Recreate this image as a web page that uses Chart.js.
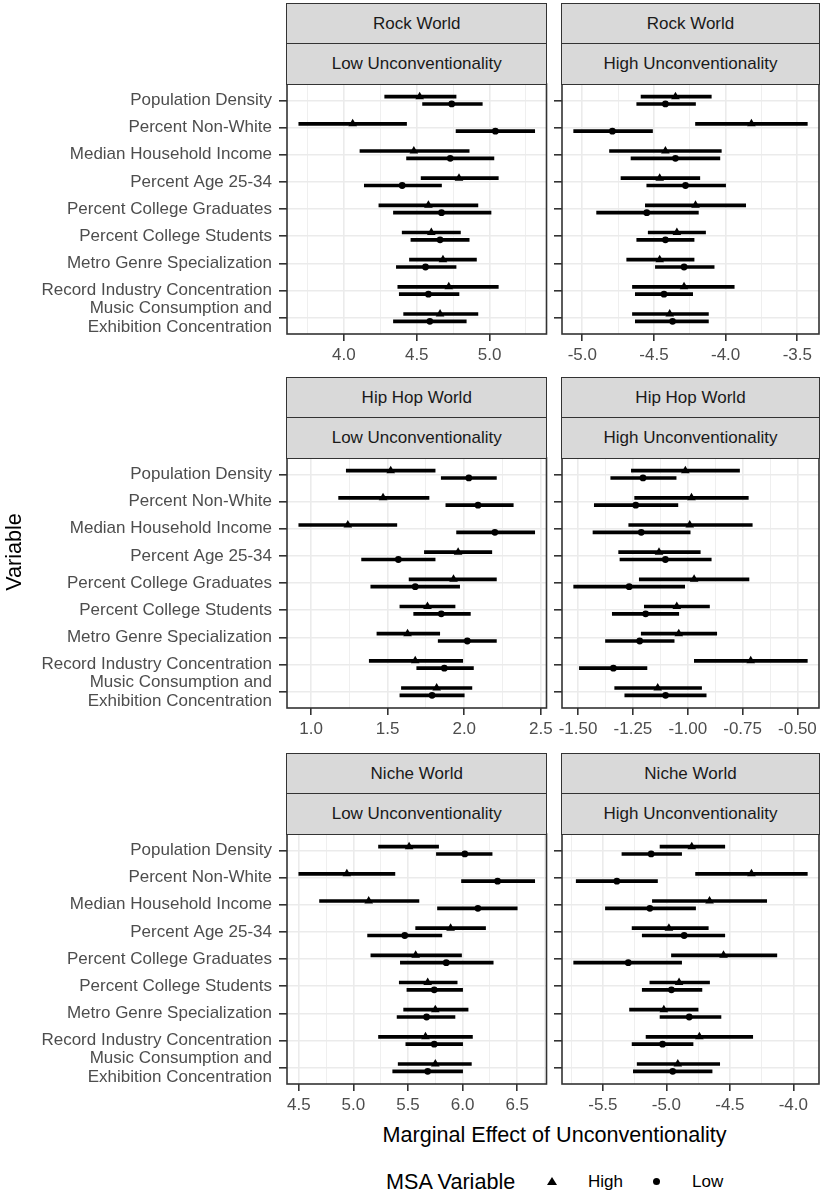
<!DOCTYPE html>
<html><head><meta charset="utf-8">
<script src="https://cdn.jsdelivr.net/npm/chart.js@4.4.1/dist/chart.umd.min.js"></script>
<style>
html,body{margin:0;padding:0;background:#fff}
body{width:824px;height:1194px;position:relative;overflow:hidden;font-family:"Liberation Sans",Arial,Helvetica,sans-serif}
canvas{position:absolute}
.strip{position:absolute;box-sizing:border-box;background:#D9D9D9;border:1.6px solid #333333;color:#1A1A1A;font-size:17px;display:flex;align-items:center;justify-content:center;white-space:nowrap}
.lbl{position:absolute;white-space:nowrap;color:#000}
</style></head><body>
<script>
// ---------- categories / labels ----------
const categories = ["Population Density","Percent Non-White","Median Household Income","Percent Age 25-34","Percent College Graduates","Percent College Students","Metro Genre Specialization","Record Industry Concentration","Music Consumption and Exhibition Concentration"];
const worlds = ["Rock World","Hip Hop World","Niche World"];
const unconventionality = ["Low Unconventionality","High Unconventionality"];
const msaLevels = ["High","Low"];
const xAxisTitle = "Marginal Effect of Unconventionality";
const yAxisTitle = "Variable";
const legendTitle = "MSA Variable";

// ---------- Rock World, Low Unconventionality ----------
const rockLowHighEst = [4.52, 4.06, 4.48, 4.79, 4.58, 4.60, 4.68, 4.72, 4.66];
const rockLowHighLo  = [4.28, 3.69, 4.11, 4.53, 4.24, 4.40, 4.45, 4.37, 4.41];
const rockLowHighHi  = [4.77, 4.43, 4.86, 5.06, 4.92, 4.80, 4.91, 5.06, 4.92];
const rockLowLowEst  = [4.74, 5.04, 4.73, 4.40, 4.67, 4.66, 4.56, 4.58, 4.59];
const rockLowLowLo   = [4.54, 4.77, 4.43, 4.14, 4.34, 4.46, 4.36, 4.38, 4.34];
const rockLowLowHi   = [4.95, 5.31, 5.03, 4.67, 5.01, 4.86, 4.77, 4.79, 4.84];
const rockLowTicks   = ["4.0","4.5","5.0"];

// ---------- Rock World, High Unconventionality ----------
const rockHighHighEst = [-4.35, -3.82, -4.42, -4.46, -4.21, -4.34, -4.46, -4.29, -4.39];
const rockHighHighLo  = [-4.59, -4.21, -4.81, -4.73, -4.56, -4.54, -4.69, -4.65, -4.65];
const rockHighHighHi  = [-4.10, -3.43, -4.03, -4.18, -3.86, -4.14, -4.22, -3.94, -4.12];
const rockHighLowEst  = [-4.42, -4.79, -4.35, -4.28, -4.55, -4.42, -4.29, -4.43, -4.37];
const rockHighLowLo   = [-4.62, -5.06, -4.66, -4.55, -4.90, -4.62, -4.49, -4.63, -4.63];
const rockHighLowHi   = [-4.21, -4.51, -4.04, -4.00, -4.19, -4.22, -4.08, -4.23, -4.12];
const rockHighTicks   = ["-5.0","-4.5","-4.0","-3.5"];

// ---------- Hip Hop World, Low Unconventionality ----------
const hipLowHighEst = [1.52, 1.47, 1.24, 1.96, 1.93, 1.76, 1.63, 1.68, 1.82];
const hipLowHighLo  = [1.23, 1.18, 0.92, 1.74, 1.64, 1.58, 1.43, 1.38, 1.59];
const hipLowHighHi  = [1.81, 1.77, 1.56, 2.18, 2.21, 1.94, 1.84, 1.99, 2.05];
const hipLowLowEst  = [2.03, 2.09, 2.20, 1.57, 1.68, 1.85, 2.02, 1.87, 1.79];
const hipLowLowLo   = [1.85, 1.88, 1.95, 1.33, 1.39, 1.67, 1.83, 1.69, 1.58];
const hipLowLowHi   = [2.21, 2.32, 2.46, 1.81, 1.97, 2.04, 2.21, 2.06, 2.00];
const hipLowTicks   = ["1.0","1.5","2.0","2.5"];

// ---------- Hip Hop World, High Unconventionality ----------
const hipHighHighEst = [-1.011, -0.983, -0.991, -1.131, -0.971, -1.050, -1.041, -0.713, -1.137];
const hipHighHighLo  = [-1.257, -1.242, -1.269, -1.315, -1.221, -1.198, -1.212, -0.970, -1.333];
const hipHighHighHi  = [-0.764, -0.724, -0.706, -0.943, -0.721, -0.901, -0.868, -0.455, -0.937];
const hipHighLowEst  = [-1.204, -1.237, -1.212, -1.102, -1.267, -1.192, -1.219, -1.339, -1.101];
const hipHighLowLo   = [-1.351, -1.426, -1.432, -1.309, -1.520, -1.344, -1.375, -1.494, -1.287];
const hipHighLowHi   = [-1.053, -1.045, -0.989, -0.893, -1.014, -1.041, -1.062, -1.186, -0.916];
const hipHighTicks   = ["-1.50","-1.25","-1.00","-0.75","-0.50"];

// ---------- Niche World, Low Unconventionality ----------
const nicheLowHighEst = [5.51, 4.94, 5.14, 5.89, 5.57, 5.68, 5.75, 5.66, 5.75];
const nicheLowHighLo  = [5.23, 4.50, 4.69, 5.57, 5.16, 5.42, 5.46, 5.23, 5.41];
const nicheLowHighHi  = [5.78, 5.38, 5.60, 6.21, 5.99, 5.95, 6.05, 6.09, 6.08];
const nicheLowLowEst  = [6.02, 6.32, 6.14, 5.47, 5.85, 5.74, 5.67, 5.74, 5.68];
const nicheLowLowLo   = [5.76, 5.99, 5.77, 5.13, 5.43, 5.49, 5.40, 5.48, 5.36];
const nicheLowLowHi   = [6.27, 6.66, 6.50, 5.81, 6.28, 6.00, 5.93, 6.00, 6.00];
const nicheLowTicks   = ["4.5","5.0","5.5","6.0","6.5"];

// ---------- Niche World, High Unconventionality ----------
const nicheHighHighEst = [-4.80, -4.33, -4.66, -4.98, -4.55, -4.90, -5.02, -4.74, -4.91];
const nicheHighHighLo  = [-5.05, -4.77, -5.11, -5.27, -4.96, -5.13, -5.29, -5.16, -5.23];
const nicheHighHighHi  = [-4.54, -3.89, -4.21, -4.67, -4.13, -4.66, -4.75, -4.32, -4.58];
const nicheHighLowEst  = [-5.12, -5.39, -5.13, -4.86, -5.30, -4.96, -4.82, -5.03, -4.95];
const nicheHighLowLo   = [-5.35, -5.71, -5.48, -5.19, -5.73, -5.19, -5.05, -5.27, -5.26];
const nicheHighLowHi   = [-4.88, -5.07, -4.77, -4.54, -4.88, -4.72, -4.57, -4.79, -4.64];
const nicheHighTicks   = ["-5.5","-5.0","-4.5","-4.0"];

// panel table (row-major: world x unconventionality)
const panels = [
  [rockLowHighEst, rockLowHighLo, rockLowHighHi, rockLowLowEst, rockLowLowLo, rockLowLowHi, rockLowTicks],
  [rockHighHighEst, rockHighHighLo, rockHighHighHi, rockHighLowEst, rockHighLowLo, rockHighLowHi, rockHighTicks],
  [hipLowHighEst, hipLowHighLo, hipLowHighHi, hipLowLowEst, hipLowLowLo, hipLowLowHi, hipLowTicks],
  [hipHighHighEst, hipHighHighLo, hipHighHighHi, hipHighLowEst, hipHighLowLo, hipHighLowHi, hipHighTicks],
  [nicheLowHighEst, nicheLowHighLo, nicheLowHighHi, nicheLowLowEst, nicheLowLowLo, nicheLowLowHi, nicheLowTicks],
  [nicheHighHighEst, nicheHighHighLo, nicheHighHighHi, nicheHighLowEst, nicheHighLowLo, nicheHighLowHi, nicheHighTicks]
];

// ---------- layout / style ----------
const FONT = "'Liberation Sans', Arial, Helvetica, sans-serif";
Chart.defaults.font.family = FONT;
const ROW_TOP = [0, 374, 750];
const COLS = [
  {left: 0, width: 560, yW: 287, padR: 13.5, labels: true},
  {left: 520, width: 304, yW: 42, padR: 2.5, labels: false}
];
const CANVAS_H = 370, X_H = 36, PAD_TOP = 84;
const DODGE = 0.135;
const GRID = '#EBEBEB', DARK = '#333333', AXTXT = '#4D4D4D';

function wrapLabel(c) {
  const k = c.indexOf(' and ');
  return k >= 0 ? [c.slice(0, k + 4), c.slice(k + 5)] : c;
}

const panelBorder = {
  id: 'panelBorder',
  afterDatasetsDraw(chart) {
    const {ctx, chartArea: a} = chart;
    ctx.save();
    ctx.strokeStyle = DARK; ctx.lineWidth = 1.6;
    ctx.strokeRect(a.left, a.top, a.right - a.left, a.bottom - a.top);
    ctx.restore();
  }
};

function addDiv(cls, text, css) {
  const d = document.createElement('div');
  d.className = cls; d.textContent = text;
  Object.assign(d.style, css);
  document.body.appendChild(d);
  return d;
}

const charts = [];
panels.forEach((p, idx) => {
  const [hEst, hLo, hHi, lEst, lLo, lHi, tickLabels] = p;
  const row = Math.floor(idx / 2), colIdx = idx % 2, col = COLS[colIdx];
  const cv = document.createElement('canvas');
  cv.width = col.width; cv.height = CANVAS_H;
  cv.style.left = col.left + 'px'; cv.style.top = ROW_TOP[row] + 'px';
  document.body.appendChild(cv);

  const allLo = Math.min(...hLo, ...lLo), allHi = Math.max(...hHi, ...lHi);
  const ext = (allHi - allLo) * 0.05;
  const xmin = allLo - ext, xmax = allHi + ext;
  const majors = tickLabels.map(Number);
  const step = majors[1] - majors[0];
  const tickVals = [];
  majors.forEach(m => tickVals.push(m));
  [majors[0] - step / 2, ...majors.map(m => m + step / 2)].forEach(m => tickVals.push(m));
  const vals = tickVals.filter(v => v >= xmin && v <= xmax).sort((a, b) => a - b);
  const majorIdx = v => majors.findIndex(m => Math.abs(m - v) < 1e-9);

  const barData = (lo, hi, off) => categories.map((c, i) => ({y: i + 1 + off, x: [lo[i], hi[i]]}));
  const ptData = (est, off) => categories.map((c, i) => ({x: est[i], y: i + 1 + off}));

  const chart = new Chart(cv, {
    type: 'scatter',
    data: {
      datasets: [
        {type: 'bar', label: msaLevels[0], indexAxis: 'y', grouped: false, barThickness: 3,
         data: barData(hLo, hHi, -DODGE), backgroundColor: '#000', borderWidth: 0, order: 1},
        {type: 'bar', label: msaLevels[1], indexAxis: 'y', grouped: false, barThickness: 3,
         data: barData(lLo, lHi, DODGE), backgroundColor: '#000', borderWidth: 0, order: 1},
        {type: 'scatter', label: msaLevels[0], data: ptData(hEst, -DODGE), pointStyle: 'triangle',
         pointRadius: 5, backgroundColor: '#000', borderWidth: 0, order: 0},
        {type: 'scatter', label: msaLevels[1], data: ptData(lEst, DODGE), pointStyle: 'circle',
         pointRadius: 3.4, backgroundColor: '#000', borderWidth: 0, order: 0}
      ]
    },
    options: {
      responsive: false, animation: false, devicePixelRatio: 1,
      layout: {padding: {left: 0, right: col.padR, top: PAD_TOP, bottom: 0}},
      plugins: {legend: {display: false}, tooltip: {enabled: false}},
      scales: {
        x: {
          type: 'linear', min: xmin, max: xmax, offset: false, beginAtZero: false,
          afterBuildTicks: s => { s.ticks = vals.map(v => ({value: v})); },
          afterFit: s => { s.height = X_H; s.paddingLeft = 0; s.paddingRight = 0; },
          grid: {
            offset: false,
            color: GRID,
            lineWidth: c => (c.tick && majorIdx(c.tick.value) >= 0) ? 1.6 : 0.8,
            tickColor: c => (c.tick && majorIdx(c.tick.value) >= 0) ? DARK : 'rgba(0,0,0,0)',
            tickWidth: 1.6, tickLength: 7
          },
          border: {display: false},
          ticks: {autoSkip: false, maxRotation: 0, minRotation: 0, padding: 4, color: AXTXT,
                  font: {size: 17},
                  callback: v => { const k = majorIdx(v); return k >= 0 ? tickLabels[k] : ''; }}
        },
        y: {
          type: 'linear', reverse: true, min: 0.4, max: categories.length + 0.6, offset: false,
          afterBuildTicks: s => { s.ticks = categories.map((c, i) => ({value: i + 1})); },
          afterFit: s => { s.width = col.yW; s.paddingTop = 0; s.paddingBottom = 0; },
          grid: {offset: false, color: GRID, lineWidth: 1.6, tickColor: DARK, tickWidth: 1.6, tickLength: 8},
          border: {display: false},
          ticks: {autoSkip: false, padding: 7, color: AXTXT, font: {size: 17, lineHeight: 1.12},
                  callback: v => col.labels ? wrapLabel(categories[Math.round(v) - 1]) : ''}
        }
      }
    },
    plugins: [panelBorder]
  });
  charts.push({chart, row, col});
});

// strips (facet labels)
charts.forEach(({chart, row, col}, idx) => {
  const a = chart.chartArea;
  const left = col.left + a.left - 0.8, width = a.right - a.left + 1.6;
  const top0 = ROW_TOP[row];
  addDiv('strip', worlds[row], {left: left + 'px', width: width + 'px', top: (top0 + 3.2) + 'px', height: '41.6px'});
  addDiv('strip', unconventionality[idx % 2], {left: left + 'px', width: width + 'px', top: (top0 + 43.2) + 'px', height: (a.top - 43.2 + 0.8) + 'px'});
});

// axis titles
addDiv('lbl', xAxisTitle, {left: '287px', width: '535px', top: '1120px', height: '30px', lineHeight: '30px', textAlign: 'center', fontSize: '21.6px'});
addDiv('lbl', yAxisTitle, {left: '-36px', width: '100px', top: '537px', height: '30px', lineHeight: '30px', textAlign: 'center', fontSize: '21.6px', transform: 'rotate(-90deg)'});

// legend
addDiv('lbl', legendTitle, {left: '386px', top: '1167px', height: '30px', lineHeight: '30px', fontSize: '21.6px'});
addDiv('lbl', '', {left: '547px', top: '1177px', width: '0', height: '0', borderLeft: '5px solid transparent', borderRight: '5px solid transparent', borderBottom: '8.5px solid #000'});
addDiv('lbl', msaLevels[0], {left: '588px', top: '1167px', height: '30px', lineHeight: '30px', fontSize: '17px'});
addDiv('lbl', '', {left: '653.2px', top: '1178px', width: '7px', height: '7px', borderRadius: '50%', background: '#000'});
addDiv('lbl', msaLevels[1], {left: '692px', top: '1167px', height: '30px', lineHeight: '30px', fontSize: '17px'});
</script>
</body></html>
